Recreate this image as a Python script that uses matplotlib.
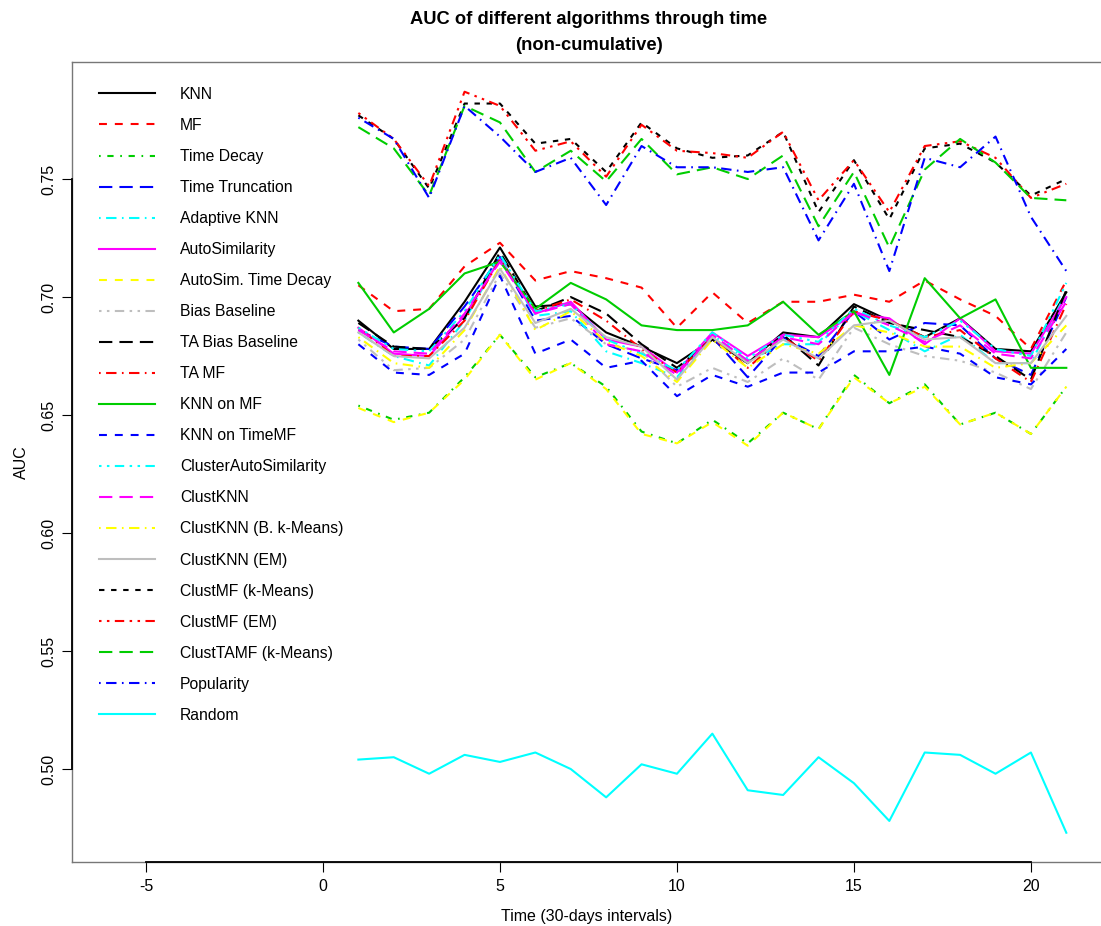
import matplotlib
matplotlib.use("Agg")
import matplotlib.pyplot as plt
from matplotlib.lines import Line2D

plt.rcParams['font.family'] = ['Liberation Sans', 'DejaVu Sans']
plt.rcParams['axes.unicode_minus'] = False

intervals = list(range(1, 22))

knn = [0.690, 0.678, 0.678, 0.698, 0.721, 0.696, 0.697, 0.685, 0.679, 0.672, 0.682,
       0.672, 0.685, 0.683, 0.697, 0.690, 0.683, 0.691, 0.678, 0.677, 0.702]
mf = [0.705, 0.694, 0.695, 0.713, 0.723, 0.707, 0.711, 0.708, 0.704, 0.687, 0.702,
      0.689, 0.698, 0.698, 0.701, 0.698, 0.707, 0.699, 0.692, 0.678, 0.707]
time_decay = [0.654, 0.648, 0.651, 0.666, 0.684, 0.666, 0.672, 0.662, 0.643, 0.638, 0.648,
              0.638, 0.651, 0.644, 0.667, 0.655, 0.663, 0.646, 0.651, 0.642, 0.662]
time_truncation = [0.686, 0.679, 0.678, 0.696, 0.717, 0.690, 0.692, 0.680, 0.674, 0.669, 0.683,
                   0.666, 0.683, 0.675, 0.694, 0.682, 0.689, 0.688, 0.674, 0.667, 0.700]
adaptive_knn = [0.685, 0.675, 0.671, 0.690, 0.717, 0.692, 0.694, 0.677, 0.672, 0.666, 0.684,
                0.673, 0.680, 0.680, 0.694, 0.686, 0.677, 0.684, 0.672, 0.672, 0.702]
auto_similarity = [0.687, 0.676, 0.675, 0.692, 0.716, 0.693, 0.698, 0.682, 0.679, 0.668, 0.685,
                   0.675, 0.684, 0.683, 0.693, 0.691, 0.680, 0.691, 0.677, 0.676, 0.700]
autosim_time_decay = [0.653, 0.647, 0.651, 0.665, 0.684, 0.665, 0.672, 0.661, 0.642, 0.638, 0.647,
                      0.637, 0.651, 0.644, 0.666, 0.655, 0.662, 0.646, 0.651, 0.642, 0.662]
bias_baseline = [0.682, 0.669, 0.670, 0.682, 0.710, 0.687, 0.691, 0.680, 0.677, 0.662, 0.670,
                 0.664, 0.674, 0.665, 0.687, 0.680, 0.675, 0.673, 0.668, 0.661, 0.685]
ta_bias_baseline = [0.689, 0.679, 0.678, 0.691, 0.719, 0.694, 0.700, 0.693, 0.680, 0.670, 0.682,
                    0.672, 0.684, 0.671, 0.696, 0.689, 0.686, 0.683, 0.675, 0.665, 0.703]
ta_mf = [0.687, 0.675, 0.675, 0.690, 0.716, 0.694, 0.699, 0.690, 0.678, 0.668, 0.683,
         0.670, 0.683, 0.673, 0.694, 0.690, 0.683, 0.686, 0.674, 0.664, 0.697]
knn_on_mf = [0.706, 0.685, 0.695, 0.710, 0.715, 0.695, 0.706, 0.699, 0.688, 0.686, 0.686,
             0.688, 0.698, 0.684, 0.694, 0.667, 0.708, 0.691, 0.699, 0.670, 0.670]
knn_on_timemf = [0.680, 0.668, 0.667, 0.676, 0.709, 0.676, 0.682, 0.670, 0.673, 0.658, 0.667,
                 0.662, 0.668, 0.668, 0.677, 0.677, 0.679, 0.676, 0.666, 0.663, 0.678]
cluster_auto_similarity = [0.687, 0.678, 0.677, 0.694, 0.718, 0.694, 0.697, 0.682, 0.676, 0.669, 0.685,
                           0.674, 0.684, 0.681, 0.695, 0.688, 0.683, 0.690, 0.678, 0.675, 0.706]
clust_knn = [0.686, 0.677, 0.676, 0.693, 0.715, 0.693, 0.697, 0.680, 0.677, 0.667, 0.684,
             0.673, 0.683, 0.680, 0.694, 0.688, 0.681, 0.688, 0.676, 0.674, 0.698]
clust_knn_bkm = [0.683, 0.672, 0.670, 0.686, 0.713, 0.686, 0.694, 0.681, 0.675, 0.664, 0.682,
                 0.670, 0.680, 0.676, 0.688, 0.685, 0.679, 0.679, 0.670, 0.672, 0.688]
clust_knn_em = [0.685, 0.675, 0.674, 0.687, 0.712, 0.689, 0.695, 0.683, 0.679, 0.665, 0.683,
                0.672, 0.682, 0.674, 0.688, 0.690, 0.682, 0.683, 0.672, 0.672, 0.692]
clust_mf_km = [0.777, 0.767, 0.746, 0.782, 0.782, 0.765, 0.767, 0.753, 0.774, 0.763, 0.759,
               0.760, 0.770, 0.736, 0.758, 0.733, 0.763, 0.765, 0.757, 0.743, 0.750]
clust_mf_em = [0.778, 0.767, 0.747, 0.787, 0.781, 0.762, 0.766, 0.751, 0.773, 0.762, 0.761,
               0.759, 0.770, 0.741, 0.758, 0.736, 0.764, 0.766, 0.759, 0.742, 0.748]
clust_tamf_km = [0.772, 0.763, 0.743, 0.781, 0.774, 0.753, 0.762, 0.749, 0.767, 0.752, 0.755,
                 0.750, 0.760, 0.730, 0.753, 0.721, 0.754, 0.767, 0.757, 0.742, 0.741]
popularity = [0.776, 0.767, 0.742, 0.781, 0.768, 0.753, 0.759, 0.739, 0.764, 0.755, 0.755,
              0.753, 0.755, 0.724, 0.748, 0.711, 0.759, 0.755, 0.768, 0.734, 0.711]
random_auc = [0.504, 0.505, 0.498, 0.506, 0.503, 0.507, 0.500, 0.488, 0.502, 0.498, 0.515,
              0.491, 0.489, 0.505, 0.494, 0.478, 0.507, 0.506, 0.498, 0.507, 0.473]

names = ["KNN", "MF", "Time Decay", "Time Truncation", "Adaptive KNN", "AutoSimilarity",
         "AutoSim. Time Decay", "Bias Baseline", "TA Bias Baseline", "TA MF", "KNN on MF",
         "KNN on TimeMF", "ClusterAutoSimilarity", "ClustKNN", "ClustKNN (B. k-Means)",
         "ClustKNN (EM)", "ClustMF (k-Means)", "ClustMF (EM)", "ClustTAMF (k-Means)",
         "Popularity", "Random"]
series = [knn, mf, time_decay, time_truncation, adaptive_knn, auto_similarity,
          autosim_time_decay, bias_baseline, ta_bias_baseline, ta_mf, knn_on_mf,
          knn_on_timemf, cluster_auto_similarity, clust_knn, clust_knn_bkm,
          clust_knn_em, clust_mf_km, clust_mf_em, clust_tamf_km, popularity, random_auc]

black, red, green, blue = "#000000", "#FF0000", "#00CD00", "#0000FF"
cyan, magenta, yellow, gray = "#00FFFF", "#FF00FF", "#FFFF00", "#BEBEBE"
colors = [black, red, green, blue, cyan, magenta, yellow, gray, black, red, green,
          blue, cyan, magenta, yellow, gray, black, red, green, blue, cyan]

solid = "-"
dashed = (0, (3.8, 3.8))
dotted_dash = (0, (0.8, 3.2, 3.0, 3.2))
longdash = (0, (6.4, 3.4))
dotdash = (0, (0.8, 2.6, 5.0, 2.6))
twodash = (0, (1.2, 2.6, 1.2, 2.6, 4.5, 2.6))
shortdash = (0, (2.6, 3.2))
styles = [solid, dashed, dotted_dash, longdash, dotdash, solid, dashed, twodash,
          longdash, dotdash, solid, dashed, twodash, longdash, dotdash, solid,
          shortdash, twodash, longdash, dotdash, solid]

fig = plt.figure(figsize=(11.01, 9.26), dpi=100)
ax = fig.add_axes([72 / 1101, 1 - 862 / 926, 1 - 72 / 1101, 800 / 926])

handles = []
for name, vals, col, ls in zip(names, series, colors, styles):
    ax.plot(intervals, vals, color=col, linestyle=ls, linewidth=1.5)
    handles.append(Line2D([], [], color=col, linestyle=ls, linewidth=1.5, label=name))

ax.set_xlim(-7.09, 21.98)
ax.set_ylim(0.4606, 0.7996)

for side in ["left", "top", "bottom"]:
    ax.spines[side].set_color("#777777")
    ax.spines[side].set_linewidth(1.0)
ax.spines["right"].set_visible(False)

# axis lines spanning the tick range
ax.plot([-5, 20], [0.4606, 0.4606], color="black", lw=1.3, clip_on=False, zorder=5)
ax.plot([-7.09, -7.09], [0.50, 0.75], color="black", lw=1.3, clip_on=False, zorder=5)

ax.set_xticks([-5, 0, 5, 10, 15, 20])
ax.set_yticks([0.50, 0.55, 0.60, 0.65, 0.70, 0.75])
ax.set_yticklabels(["0.50", "0.55", "0.60", "0.65", "0.70", "0.75"], rotation=90, va="center")
ax.tick_params(axis="both", direction="out", length=7, width=0.8, labelsize=11.5,
               color="black")
ax.tick_params(axis="x", pad=5)
ax.tick_params(axis="y", pad=4)

ax.set_xlabel("Time (30-days intervals)", fontsize=11.5, labelpad=11)
ax.set_ylabel("AUC", fontsize=11.5, labelpad=9)

fig.text(589 / 1101, 1 - 20 / 926, "AUC of different algorithms through time",
         ha="center", va="center", fontsize=13.2, fontweight="bold")
fig.text(589 / 1101, 1 - 45 / 926, "(non-cumulative)",
         ha="center", va="center", fontsize=13.2, fontweight="bold")

ax.legend(handles=handles, loc="upper left", bbox_to_anchor=(0.0125, 0.9865), frameon=False,
          fontsize=11.3, handlelength=3.6, handletextpad=1.55, labelspacing=1.022)

fig.savefig("out.png", dpi=100)
